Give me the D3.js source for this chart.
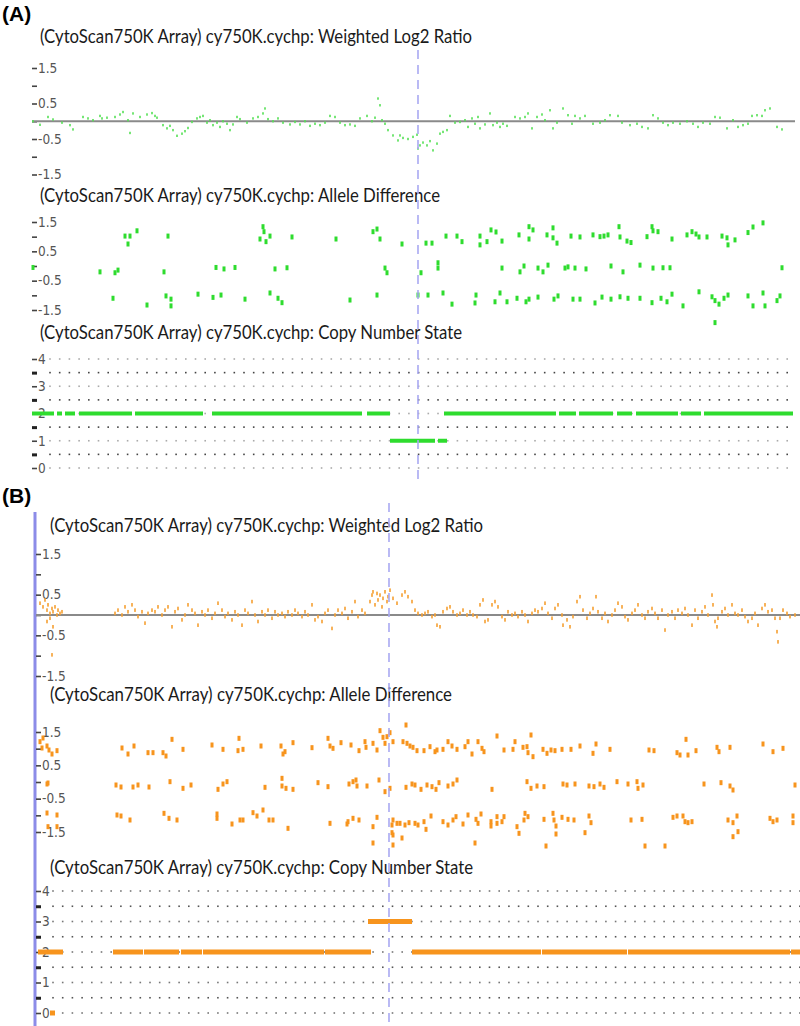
<!DOCTYPE html>
<html>
<head>
<meta charset="utf-8">
<script src="https://cdn.jsdelivr.net/npm/d3@7"></script>
<style>
body{margin:0;background:#fff;}
svg{display:block;}
.title{font-family:Lato,"Open Sans",sans-serif;font-size:19px;fill:#1a1a1a;}
.panel-label{font-family:"Liberation Sans",Arial,sans-serif;font-size:21px;font-weight:bold;fill:#000;}
.yaxis .tick text{font-family:"Liberation Sans Narrow","DejaVu Sans Condensed",sans-serif;font-size:13.5px;fill:#555;}
</style>
</head>
<body>
<script>
var titleLog2 = "(CytoScan750K Array) cy750K.cychp: Weighted Log2 Ratio";
var titleAllele = "(CytoScan750K Array) cy750K.cychp: Allele Difference";
var titleCN = "(CytoScan750K Array) cy750K.cychp: Copy Number State";

var signalTicks = [1.5, 1, 0.5, 0, -0.5, -1, -1.5];
var signalLabels = [1.5, 0.5, -0.5, -1.5];
var cnTicks = [4, 3.5, 3, 2.5, 2, 1.5, 1, 0.5, 0];
var cnLabels = [4, 3, 2, 1, 0];

// position in Mb, value
var log2A = [[3.3,0],[4.0,-0.1],[4.8,0.12],[5.3,0.05],[6.2,-0.04],[7.0,-0.11],[7.3,-0.23],[8.3,0.12],[8.8,0.08],[9.3,0.03],[10.0,0.15],[10.2,0.08],[10.7,0.1],[11.5,0.12],[12.0,0.19],[12.3,0.26],[12.8,0.03],[13.0,-0.33],[13.3,0.22],[14.0,0.12],[14.7,0.19],[15.2,0.23],[15.5,0.15],[15.7,0.1],[16.3,-0.11],[16.7,-0.2],[17.0,-0.13],[17.3,-0.25],[17.7,-0.41],[18.2,-0.35],[18.5,-0.28],[18.8,-0.19],[19.2,-0.02],[19.7,0.08],[20.0,0.12],[20.3,0.15],[20.7,-0.04],[21.0,0.03],[21.3,-0.11],[21.7,-0.04],[22.0,-0.16],[22.3,0],[22.7,-0.07],[23.0,-0.25],[23.3,-0.09],[23.7,0.12],[24.0,0.06],[24.7,-0.04],[25.3,0.08],[25.8,0.12],[26.3,0.22],[26.5,0.36],[26.8,0.06],[27.3,0],[27.8,0.08],[28.3,-0.04],[29.0,-0.09],[29.5,-0.02],[30.0,-0.09],[30.5,0],[31.0,-0.13],[31.5,-0.07],[32.0,-0.11],[32.5,-0.04],[33.0,0.15],[33.5,0.12],[34.0,-0.04],[34.5,-0.11],[35.0,-0.09],[35.5,-0.13],[36.0,0.08],[36.7,0.15],[37.2,0],[37.5,0.1],[37.8,0.64],[38.0,0.45],[38.2,0.03],[38.5,-0.07],[38.8,-0.25],[39.3,-0.4],[39.8,-0.54],
  [40.0,-0.4],[40.3,-0.47],[40.8,-0.5],[41.3,-0.44],[41.7,-0.38],[41.8,-0.77],[42.0,-0.68],[42.3,-0.6],[42.7,-0.68],[43.0,-0.56],[43.3,-0.82],[43.7,-0.63],[44.0,-0.35],[44.3,-0.3],[44.7,-0.25],[45.0,0.15],[45.5,-0.04],[46.0,-0.02],[46.5,0.03],[46.8,-0.16],[47.2,0.08],[47.5,-0.07],[47.8,0.12],[48.0,-0.2],[48.5,-0.09],[49.0,0.22],[49.3,-0.11],[49.7,-0.04],[50.0,-0.16],[50.3,-0.07],[50.7,-0.13],[51.5,0.12],[52.0,0.08],[52.5,0.12],[52.8,0.22],[53.2,-0.2],[53.7,0.12],[54.2,0.19],[54.5,0.03],[55.0,0.31],[55.3,-0.2],[55.7,-0.04],[56.3,0.36],[56.8,0.17],[57.2,-0.07],[57.5,0.15],[58.0,0.08],[58.5,0.15],[59.3,-0.07],[60.0,-0.04],[60.5,0.03],[61.0,0.17],[61.8,0.15],[62.2,-0.04],[63.0,-0.11],[63.7,-0.07],[64.2,-0.16],[64.8,-0.2],[65.3,0.17],[65.8,0.08],[66.3,-0.04],[66.8,-0.11],[67.3,-0.04],[68.0,-0.07],[68.7,0],[69.3,-0.07],[69.8,-0.16],[70.3,-0.04],[71.0,-0.07],[71.5,0.12],[72.0,0.1],[72.7,-0.2],[73.3,0.03],[73.8,-0.16],[74.3,-0.11],[74.8,-0.07],[75.2,0.15],[75.7,0.17],[76.2,0.15],[76.5,0.31],[77.0,0.36],[77.7,-0.16],[78.2,-0.23]];

var alleleA = [[3.3,-0.05],[10.0,-0.2],[11.5,-0.23],[11.8,-0.14],[12.5,1.02],[13.0,1.02],[12.8,0.75],[13.7,1.2],[16.4,-0.2],[16.8,1.02],[11.3,-1.1],[14.7,-1.33],[16.6,-1.02],[17.1,-1.13],[17.1,-1.36],[19.8,-0.96],[21.3,-1.07],[21.6,-0.05],[22.1,-0.99],[22.4,-0.1],[23.5,-0.05],[24.5,-1.13],[26.0,0.92],[26.3,1.34],[26.4,1.17],[26.6,0.83],[27.0,1.02],[27.0,-0.92],[27.5,-0.1],[27.8,-1.1],[28.2,-1.25],[28.7,-0.06],[29.2,0.99],[33.6,0.92],[35.0,-1.16],[37.3,1.17],[37.7,1.26],[38.0,0.92],[37.7,-0.99],[38.5,-0.07],[38.7,-0.23],
  [40.2,0.75],[42.1,-0.23],[41.8,-0.99],[42.6,0.78],[43.2,0.78],[42.8,-0.99],[43.8,0.11],[43.8,-0.07],[44.3,-0.92],[44.6,1.02],[45.2,-1.3],[45.7,1.02],[46.2,0.83],[47.6,-0.99],[47.5,-1.26],[48.0,1.02],[48.0,0.72],[48.7,0.83],[49.1,1.23],[49.6,1.16],[49.5,-1.22],[50.0,-0.92],[50.2,0.85],[50.2,-0.07],[50.7,-1.22],[51.7,-1.1],[51.9,1.06],[52.0,-0.2],[52.4,0],[52.6,-1.22],[52.9,0.92],[52.9,1.34],[53.3,1.23],[52.9,-1.13],[53.8,-1.06],[53.8,-0.07],[54.3,-0.2],[54.7,1.06],[54.8,0.03],[55.3,1.3],[55.3,0.96],[55.7,0.78],[55.4,-1.13],[55.8,-1.02],[56.5,-0.07],[56.8,-0.03],[57.5,-0.07],[57.1,1.02],[57.3,-1.13],[58.0,0.99],[58.0,-1.13],[58.6,-0.1],[59.3,1.06],[60.0,1.0],[60.4,1.02],[60.8,1.06],[59.5,-1.26],[60.2,-1.06],[61.1,-1.13],[61.1,0],[61.9,1.34],[62.0,0.99],[62.3,-0.2],[62.0,-1.05],[62.7,0.85],[63.1,0.8],[62.8,-1.1],[64.0,0.03],[64.0,-1.1],[64.7,1.0],[65.2,1.34],[65.3,-0.07],[65.3,1.2],[65.8,1.17],[65.2,-1.25],[66.1,-1.1],[66.3,-0.06],[67.0,-0.06],[66.7,-1.22],[67.2,0.92],[67.2,-0.96],[68.3,-1.36],[68.7,1.06],[69.2,1.17],[69.6,1.09],[69.9,0.99],[69.9,-0.88],[70.7,0.99],[71.2,-1.05],[71.5,-1.18],[71.5,-1.93],[71.9,-1.3],[72.2,1.02],[72.4,-1.1],[72.7,0.96],[72.8,0.72],[72.8,-0.99],[73.5,0.89],[74.8,1.14],[74.8,-1.02],[75.3,1.33],[75.3,-1.36],[76.3,1.47],[76.3,-0.92],[76.5,-1.36],[77.7,-1.18],[78.0,-1.02],[78.2,-0.06]];

// start, end (Mb), copy number
var cnA = [[3.2,5.4,2],[5.7,6.2,2],[6.5,7.5,2],[7.9,13.2,2],[13.5,20.3,2],[21.2,36.2,2],[36.7,39.0,2],[39.0,43.5,1],[43.8,44.7,1],[44.4,55.6,2],[55.9,57.6,2],[57.9,61.3,2],[61.7,63.2,2],[63.6,67.8,2],[68.1,70.1,2],[70.4,79.3,2]];
var markerA = 41.8;

var log2B = [[4.0,0.29],[4.3,0.2],[4.7,0.12],[4.8,0.25],[5.0,0.04],[5.2,0.16],[5.3,0.08],[5.5,0.2],[5.7,0],[5.8,0.12],[6.0,0.04],[4.7,-0.16],[5.0,-0.08],[5.3,-0.29],[6.2,0.08],[4.5,0.37],[5.2,-0.98],
  [11.5,0.04],[11.8,0.12],[12.2,0],[12.5,0.2],[12.8,0.08],[13.2,0.25],[13.5,0.12],[13.8,-0.04],[14.2,0.08],[14.5,-0.2],[14.8,0.04],[15.2,0.12],[15.5,0.08],[15.8,0.2],[16.2,0],[16.5,0.12],[16.8,0.2],[17.2,-0.29],[17.5,0.08],[17.8,0.16],[18.2,-0.12],[18.5,0],[18.8,0.25],[19.2,0.12],[19.5,0.04],[19.8,-0.25],[20.2,0.08],[20.5,0],[20.8,0.12],[21.2,-0.08],[21.5,0.04],[21.8,0.29],[22.2,0.12],[22.5,-0.04],[22.8,0.04],[23.2,-0.12],[23.5,0.08],[23.8,0],[24.2,-0.25],[24.5,0.12],[24.8,0.04],[25.2,0.33],[25.5,0],[25.8,-0.16],[26.2,0.08],[26.5,0],[26.8,0.12],[27.2,-0.08],[27.5,0.08],[27.8,0],[28.2,0.04],[28.5,-0.04],[28.8,0.08],[29.2,0],[29.5,0.12],[29.8,0.04],[30.2,-0.04],[30.5,0.08],[30.8,0],[31.2,0.25],[31.5,-0.12],[31.8,-0.04],[32.2,-0.16],[32.5,0.04],[32.8,0.12],[33.2,-0.33],[33.5,0],[33.8,0.12],[34.2,0.04],[34.5,0.16],[34.8,-0.08],[35.2,0.08],[35.5,0.33],[35.8,-0.04],[36.2,0.12],[36.5,0.04],[37.0,0.33],[37.2,0.49],[37.3,0.57],[37.5,0.25],[37.7,0.53],[37.8,0.37],[38.0,0.49],[38.2,0.2],[38.3,0.41],[38.5,0.57],[38.7,0.33],[38.8,0.45],[39.0,0.61],[39.3,0.41],[39.7,0.29],
  [40.2,0.49],[40.5,0.57],[40.8,0.45],[41.2,0.33],[41.5,0.12],[41.8,0.04],[42.2,0],[42.5,0.04],[42.8,0.08],[43.2,-0.04],[43.5,0],[43.7,-0.25],[44.0,-0.29],[44.3,0.08],[44.7,0.16],[45.0,0.2],[45.3,0.08],[45.7,0],[46.0,0.04],[46.3,0.12],[46.7,0],[47.0,0.08],[47.3,0],[47.7,-0.04],[48.0,0.25],[48.3,0.37],[48.5,-0.16],[48.8,-0.12],[49.2,0.25],[49.5,0.33],[49.8,0.2],[50.2,-0.04],[50.5,-0.12],[50.8,0.08],[51.2,0],[51.5,0.04],[51.8,-0.04],[52.2,0.08],[52.5,0],[52.8,-0.16],[53.2,0.04],[53.5,0.12],[53.8,0.08],[54.2,0.16],[54.5,0.29],[54.8,0.04],[55.2,-0.08],[55.5,0.16],[55.8,0.25],[56.2,0],[56.3,-0.25],[56.7,-0.12],[57.0,-0.29],[57.3,-0.04],[57.7,0.33],[58.0,0.45],[58.3,0.12],[58.7,-0.08],[59.0,0.04],[59.3,0.16],[59.6,0.45],[59.8,0.08],[60.2,-0.08],[60.5,0.04],[60.8,-0.16],[61.2,0],[61.5,0.12],[61.8,0.29],[62.2,0.2],[62.5,-0.04],[62.8,-0.12],[63.2,0.04],[63.5,0.12],[63.8,0.25],[64.2,0],[64.5,-0.08],[64.8,0.08],[65.2,0.16],[65.5,0.04],[65.8,-0.08],[66.2,0.12],[66.5,-0.37],[66.8,0],[67.2,0.08],[67.5,-0.08],[67.8,0.12],[68.2,0.04],[68.5,0.16],[68.8,0],[69.2,-0.25],[69.5,0.12],[69.8,-0.08],[70.2,0.08],[70.5,0.2],[70.8,0],[71.2,0.49],[71.3,0.25],[71.5,-0.16],[71.7,-0.29],[71.8,-0.08],[72.2,0.08],[72.5,0.16],[72.8,0],[73.2,0.25],[73.5,0.04],[73.8,0],[74.2,0.12],[74.5,-0.04],[74.8,-0.16],[75.2,-0.08],[75.5,0.04],[75.8,-0.25],[76.2,0.16],[76.5,0.25],[76.8,0.08],[77.2,0.12],[77.5,-0.08],[77.7,-0.41],[77.8,-0.66],[78.0,-0.08],[78.3,0.12],[78.7,0.04],[79.0,-0.04],[79.5,0]];

var alleleB = [[4.0,1.21],[4.3,1.32],[4.2,1.02],[4.7,1.08],[4.9,0.96],[5.2,0.84],[5.7,0.94],[4.7,-0.06],[4.8,-0.03],[4.7,-0.93],[4.8,-1.34],[5.7,-0.99],[5.7,-1.34],
  [12.2,1.02],[12.8,0.84],[13.4,1.08],[14.8,0.88],[15.3,0.88],[16.3,0.88],[16.6,0.78],[17.2,1.28],[18.3,0.98],[21.2,1.11],[22.3,0.98],[23.9,1.31],[23.8,0.94],[24.3,0.98],[26.1,1.08],[28.1,1.08],[28.3,0.84],[28.5,0.91],[29.3,1.18],[31.2,1.03],[32.8,1.31],[33.0,1.08],[33.3,1.01],[34.1,1.18],[35.1,1.11],[35.9,0.94],[36.5,1.21],[36.6,1.04],[37.3,1.16],[37.7,0.96],[38.0,1.54],[38.3,1.34],[38.7,1.36],[39.0,1.48],[38.5,1.16],[39.3,1.21],
  [11.6,-0.09],[12.1,-0.15],[13.3,-0.15],[13.8,-0.09],[14.9,-0.15],[17.0,0.01],[18.3,-0.19],[19.1,-0.09],[21.8,-0.22],[22.3,-0.06],[22.7,0.01],[26.5,-0.16],[28.2,0.11],[28.2,-0.12],[28.6,-0.19],[29.3,-0.22],[31.8,-0.02],[32.8,-0.14],[34.9,-0.06],[35.3,0.01],[35.6,0.06],[35.7,-0.12],[36.7,-0.12],[37.9,0.06],[38.5,-0.29],[39.0,-0.19],
  [11.7,-0.99],[12.1,-1.02],[13.0,-1.14],[16.4,-0.94],[16.9,-1.09],[17.7,-1.14],[21.7,-0.96],[21.7,-1.09],[23.2,-1.26],[24.0,-1.14],[24.3,-1.14],[25.3,-0.92],[25.7,-1.02],[26.3,-0.84],[26.9,-1.14],[27.3,-1.14],[28.8,-1.39],[33.0,-1.24],[34.7,-1.26],[34.8,-1.19],[35.3,-1.09],[35.9,-1.14],[37.3,-1.34],[37.7,-1.06],[39.2,-1.29],[39.3,-1.14],[39.7,-1.24],[39.2,-1.52],[37.3,-1.83],[39.3,-1.89],[39.3,-1.59],
  [40.6,1.71],[40.3,1.21],[40.7,1.16],[41.0,1.08],[41.3,1.04],[41.7,0.94],[42.4,0.94],[43.0,1.06],[43.5,0.91],[43.7,0.96],[44.3,0.98],[44.8,1.21],[45.2,1.08],[45.7,0.98],[46.5,1.06],[46.8,1.21],[47.2,0.84],[47.8,1.21],[48.2,1.01],[48.4,0.91],[49.7,1.38],[50.4,0.96],[51.3,0.98],[51.5,1.21],[52.3,1.04],[52.7,1.06],[52.8,0.88],[53.1,1.41],[53.3,0.76],[54.3,0.98],[54.7,0.86],[55.1,0.96],[55.5,0.94],[56.2,0.98],[57.1,0.98],[58.0,1.08],[59.3,0.86],[59.6,1.14],[61.0,0.98],[64.9,0.96],[65.4,0.94],[67.7,0.88],[68.0,0.81],[68.6,1.28],[68.8,0.81],[69.6,0.94],[71.7,1.04],[71.9,0.91],[73.0,1.04],[76.3,1.14],[77.3,0.91],[78.3,1.01],
  [40.6,-0.16],[41.2,-0.06],[41.5,-0.09],[42.1,-0.22],[42.7,-0.09],[43.2,-0.14],[43.6,-0.22],[43.9,-0.02],[44.8,-0.12],[45.3,-0.06],[45.7,0.06],[49.2,-0.22],[52.7,0.01],[53.1,-0.19],[53.7,-0.12],[54.4,-0.14],[56.3,-0.06],[56.7,-0.09],[57.5,-0.06],[58.9,-0.12],[59.4,-0.14],[60.0,-0.06],[60.4,-0.16],[61.7,0.01],[62.8,-0.06],[63.7,0.01],[63.8,-0.19],[64.3,-0.09],[70.4,-0.06],[72.1,-0.02],[73.0,-0.12],[73.3,-0.24],[79.5,-0.09],
  [40.0,-1.24],[40.5,-1.29],[40.9,-1.22],[41.5,-1.24],[41.8,-1.29],[42.4,-1.19],[42.6,-1.42],[43.1,-1.02],[44.3,-1.19],[44.8,-1.29],[45.3,-1.14],[45.6,-1.04],[46.3,-1.26],[46.8,-0.99],[47.6,-1.12],[47.8,-1.24],[48.1,-0.96],[49.1,-1.19],[49.1,-1.32],[49.7,-1.04],[49.7,-1.24],[50.2,-1.19],[50.4,-1.04],[51.7,-1.34],[51.9,-1.54],[52.4,-1.14],[52.5,-0.94],[52.8,-1.04],[54.4,-1.12],[55.3,-0.94],[55.4,-1.14],[55.6,-1.32],[55.6,-1.56],[56.2,-1.06],[56.8,-1.12],[57.4,-1.14],[58.5,-1.52],[58.9,-1.02],[59.1,-1.22],[63.1,-1.14],[64.2,-1.12],[67.3,-1.06],[67.7,-1.02],[68.3,-1.02],[68.5,-1.19],[68.8,-1.22],[69.2,-1.19],[72.8,-1.14],[73.3,-1.22],[73.7,-1.02],[73.3,-1.64],[77.0,-1.09],[77.3,-1.19],[77.7,-1.14],[79.3,-1.02],[79.3,-1.22],
  [40.2,-1.68],[47.5,-1.83],[54.6,-1.92],[64.5,-1.92],[66.5,-1.92],[73.8,-1.49]];

var cnB = [[3.8,6.3,2],[5.0,5.5,0],[11.3,14.3,2],[14.4,17.9,2],[18.1,20.2,2],[20.3,32.4,2],[32.5,37.1,2],[36.8,41.2,3],[41.2,54.1,2],[54.2,62.7,2],[62.8,79.0,2],[79.1,80.0,2]];
var markerB = 38.9;

var width = 800, height = 1026;
var svg = d3.select("body").append("svg").attr("width", width).attr("height", height);

function addTitle(text, x, y, len) {
  svg.append("text").attr("class", "title")
      .attr("x", x).attr("y", y)
      .attr("textLength", len).attr("lengthAdjust", "spacingAndGlyphs")
      .text(text);
}

function addAxis(y, axisX, ticks, labels) {
  var ax = d3.axisLeft(y).tickValues(ticks).tickSize(5).tickPadding(0)
      .tickFormat(function(d) { return labels.indexOf(d) >= 0 ? String(d) : ""; });
  var g = svg.append("g").attr("class", "yaxis")
      .attr("transform", "translate(" + axisX + ",0)")
      .call(ax);
  g.select(".domain").remove();
  g.selectAll(".tick line").attr("stroke", "#444").attr("stroke-width", 1.6);
  g.selectAll(".tick text").attr("x", 1).attr("text-anchor", "start");
  return g;
}

function log2Track(o) {
  var y = d3.scaleLinear().domain([-1.5, 1.5]).range([o.bottom, o.top]);
  addAxis(y, o.axisX, signalTicks, signalLabels);
  svg.append("line")
      .attr("x1", o.axisX - 5).attr("x2", o.x.range()[1])
      .attr("y1", y(0)).attr("y2", y(0))
      .attr("stroke", "#8a8a8a").attr("stroke-width", 2);
  svg.append("g").selectAll("rect")
      .data(o.data)
    .enter().append("rect")
      .attr("x", function(d) { return o.x(d[0]) - o.w / 2; })
      .attr("y", function(d) { return y(d[1]) - o.h / 2; })
      .attr("width", o.w).attr("height", o.h)
      .attr("fill", o.color);
}

function alleleTrack(o) {
  var y = d3.scaleLinear().domain([-1.5, 1.5]).range([o.bottom, o.top]);
  addAxis(y, o.axisX, signalTicks, signalLabels);
  svg.append("g").selectAll("rect")
      .data(o.data)
    .enter().append("rect")
      .attr("x", function(d) { return o.x(d[0]) - 1.5; })
      .attr("y", function(d) { return y(d[1]) - 2.5; })
      .attr("width", 3).attr("height", 5)
      .attr("fill", o.color);
}

function cnTrack(o) {
  var y = d3.scaleLinear().domain([0, 4]).range([o.bottom, o.top]);
  var dotX = d3.range(o.dotStart, o.x.range()[1] + 1, 9.7);
  cnTicks.forEach(function(v) {
    svg.append("g").selectAll("rect")
        .data(dotX)
      .enter().append("rect")
        .attr("x", function(d) { return d - 0.8; })
        .attr("y", y(v) - 0.8)
        .attr("width", 1.6).attr("height", 1.6)
        .attr("fill", v % 1 ? o.halfDot : o.intDot);
  });
  var ax = addAxis(y, o.axisX, cnTicks, cnLabels);
  ax.selectAll(".tick line").filter(function(d) { return d % 1; })
      .attr("stroke", "#222").attr("stroke-width", 3);
  svg.append("g").selectAll("line")
      .data(o.data)
    .enter().append("line")
      .attr("x1", function(d) { return o.x(d[0]); })
      .attr("x2", function(d) { return o.x(d[1]); })
      .attr("y1", function(d) { return y(d[2]); })
      .attr("y2", function(d) { return y(d[2]); })
      .attr("stroke", o.color).attr("stroke-width", o.lw);
}

function marker(x, pos, y0, y1) {
  svg.append("line")
      .attr("x1", x(pos)).attr("x2", x(pos))
      .attr("y1", y0).attr("y2", y1)
      .attr("stroke", "#a9a9f2").attr("stroke-width", 1.6)
      .attr("stroke-dasharray", "9,6");
}

// ---- panel A
var xA = d3.scaleLinear().domain([3.2, 79.5]).range([32, 795]);
var green = "#2edc2e";

svg.append("text").attr("class", "panel-label").attr("x", 2).attr("y", 21).text("(A)");
addTitle(titleLog2, 40, 43, 432);
log2Track({x: xA, data: log2A, top: 68, bottom: 174.5, axisX: 37, color: "#55e055", w: 1.6, h: 2.4});
addTitle(titleAllele, 40, 202, 400);
alleleTrack({x: xA, data: alleleA, top: 222, bottom: 310, axisX: 37, color: green});
addTitle(titleCN, 40, 339, 422);
cnTrack({x: xA, data: cnA, top: 359, bottom: 468, axisX: 37, dotStart: 50, color: green, lw: 4, intDot: "#aaa", halfDot: "#444"});
marker(xA, markerA, 50, 479);

// ---- panel B
var xB = d3.scaleLinear().domain([3.8, 80]).range([38, 800]);
var orange = "#f7941d";

svg.append("text").attr("class", "panel-label").attr("x", 2).attr("y", 503).text("(B)");
svg.append("line")
    .attr("x1", 35).attr("x2", 35).attr("y1", 512).attr("y2", height)
    .attr("stroke", "#8c8ce8").attr("stroke-width", 3);
addTitle(titleLog2, 50, 532, 433);
log2Track({x: xB, data: log2B, top: 554, bottom: 676, axisX: 41, color: "#f5a032", w: 1.6, h: 3.6});
addTitle(titleAllele, 50, 701, 402);
alleleTrack({x: xB, data: alleleB, top: 732, bottom: 832, axisX: 41, color: orange});
addTitle(titleCN, 50, 874, 423);
cnTrack({x: xB, data: cnB, top: 891, bottom: 1013, axisX: 41, dotStart: 53, color: orange, lw: 5, intDot: "#777", halfDot: "#555"});
marker(xB, markerB, 503, height);
</script>
</body>
</html>
